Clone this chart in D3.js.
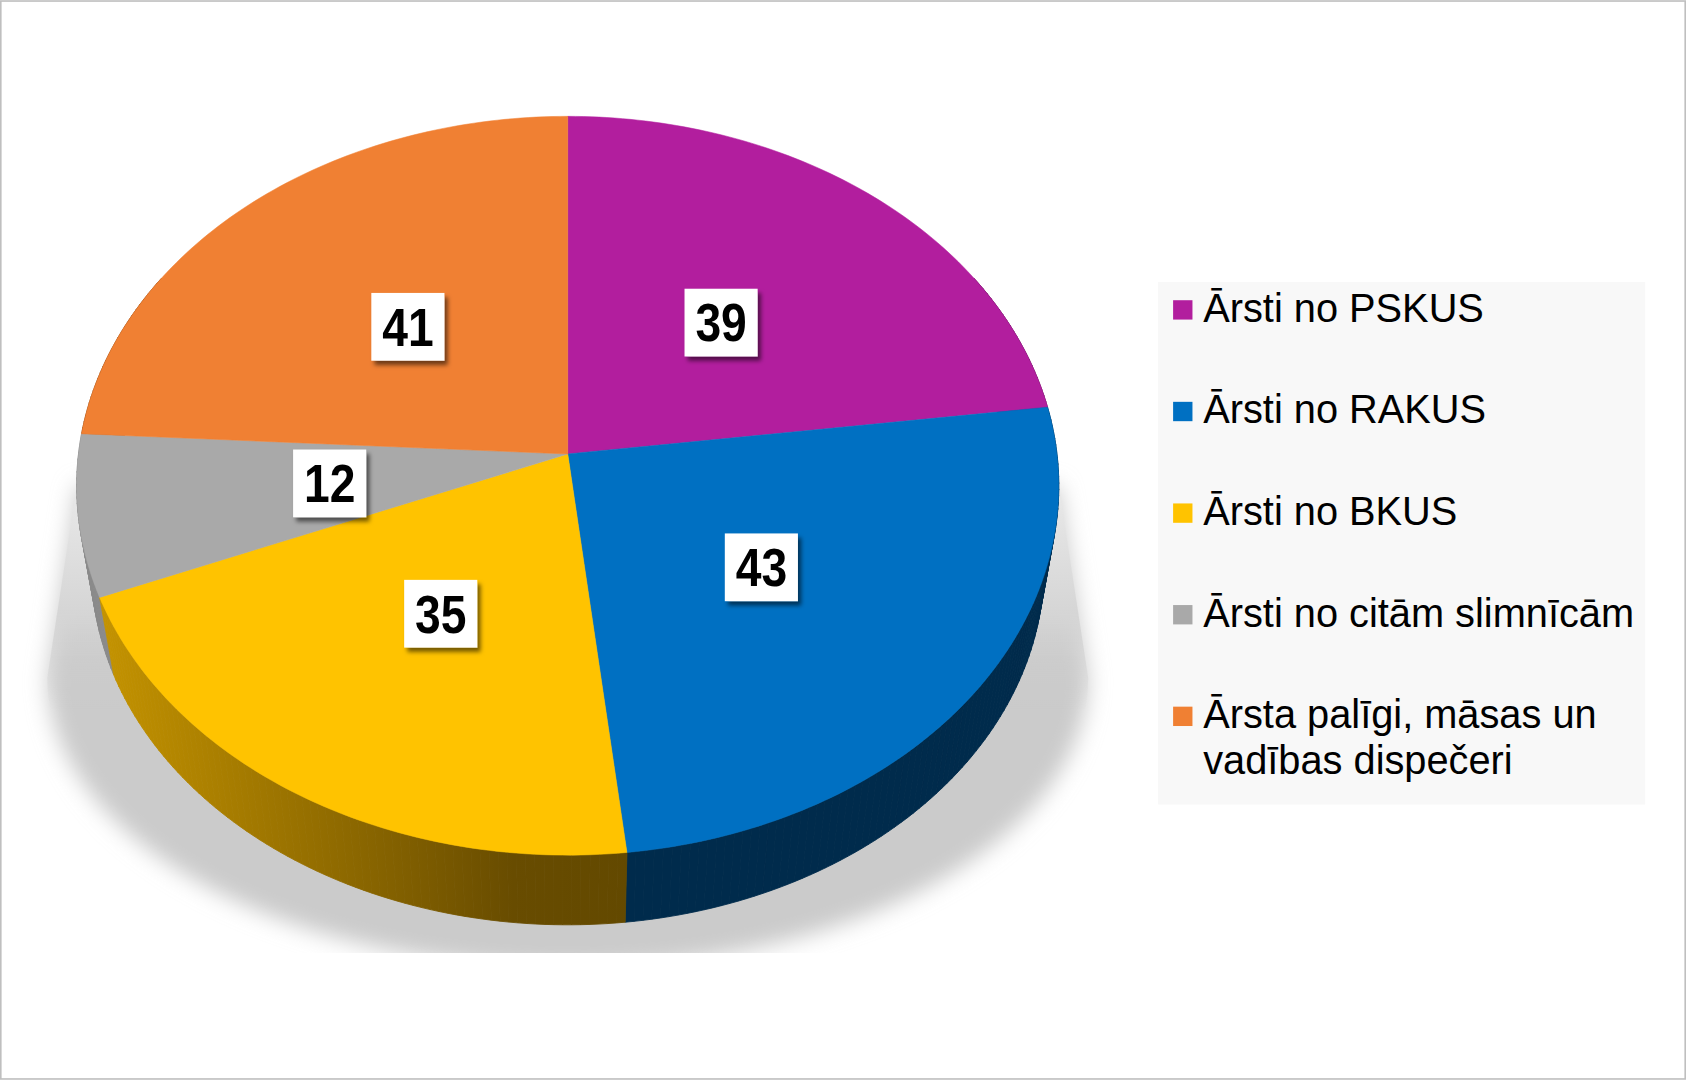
<!DOCTYPE html>
<html>
<head>
<meta charset="utf-8">
<script src="https://cdn.jsdelivr.net/npm/d3@7"></script>
<style>
  body { margin: 0; background: #fff; }
  svg { display: block; }
</style>
</head>
<body>
<script>
// Data
var categories = ["Ārsti no PSKUS", "Ārsti no RAKUS", "Ārsti no BKUS", "Ārsti no citām slimnīcām", "Ārsta palīgi, māsas un vadības dispečeri"];
var values = [39, 43, 35, 12, 41];
var colors = ["#B21E9E", "#0070C2", "#FFC300", "#A9A9A9", "#F08033"];
var sideColors = ["#5a0f50", "#002B4C", "url(#yellowSide)", "#8a8a8a", "#8a4512"];

// Svg container (drawn in a 1568x1004 space, shown at 1686x1080)
var svg = d3.select("body").append("svg")
    .attr("width", 1686).attr("height", 1080)
    .attr("viewBox", "0 0 1568 1004");

svg.append("rect").attr("x", 0.75).attr("y", 0.75).attr("width", 1566.5).attr("height", 1002.5)
    .attr("fill", "#fff").attr("stroke", "#bfbfbf").attr("stroke-width", 1.5);

var defs = svg.append("defs");
var yg = defs.append("linearGradient").attr("id", "yellowSide")
    .attr("gradientUnits", "userSpaceOnUse").attr("x1", 95).attr("x2", 585).attr("y1", 0).attr("y2", 0);
yg.append("stop").attr("offset", "0").attr("stop-color", "#C49300");
yg.append("stop").attr("offset", "0.78").attr("stop-color", "#684C00");
yg.append("stop").attr("offset", "1").attr("stop-color", "#634900");

// light upper part of the shadow
var sg = defs.append("linearGradient").attr("id", "shadowTop")
    .attr("gradientUnits", "userSpaceOnUse").attr("x1", 0).attr("x2", 0).attr("y1", 400).attr("y2", 620);
sg.append("stop").attr("offset", "0").attr("stop-color", "#f2f2f2");
sg.append("stop").attr("offset", "1").attr("stop-color", "#cdcdcd");
var mg = defs.append("linearGradient").attr("id", "shadowFade")
    .attr("gradientUnits", "userSpaceOnUse").attr("x1", 0).attr("x2", 0).attr("y1", 570).attr("y2", 660);
mg.append("stop").attr("offset", "0").attr("stop-color", "#fff");
mg.append("stop").attr("offset", "1").attr("stop-color", "#000");
defs.append("mask").attr("id", "shadowMask").attr("maskUnits", "userSpaceOnUse")
    .attr("x", 0).attr("y", 0).attr("width", 1568).attr("height", 1004)
    .append("rect").attr("width", 1568).attr("height", 1004).attr("fill", "url(#shadowFade)");

var blur = defs.append("filter").attr("id", "softBlur").attr("x", "-20%").attr("y", "-20%").attr("width", "140%").attr("height", "140%");
blur.append("feGaussianBlur").attr("stdDeviation", 10);

var ds = defs.append("filter").attr("id", "labelShadow").attr("x", "-30%").attr("y", "-30%").attr("width", "160%").attr("height", "160%");
ds.append("feDropShadow").attr("dx", 3).attr("dy", 4).attr("stdDeviation", 2)
    .attr("flood-color", "#000").attr("flood-opacity", 0.55);

defs.append("clipPath").attr("id", "shadowClip")
    .append("rect").attr("x", 0).attr("y", 0).attr("width", 1568).attr("height", 886);

// Perspective pie: scales map the projected unit disc to the page
var cx = 528, cy = 422, persp = 0.086;
var xScale = d3.scaleLinear().domain([-1, 1]).range([cx - 455, cx + 455]);
var yScale = d3.scaleLinear().domain([-1, 1]).range([cy - 341, cy + 341]);
// bottom rim = top rim shrunk a little and moved down
var bottomShrink = 0.97, bottomDrop = 76;

function proj(theta, k) {
    var u = Math.sin(theta) * k, v = -Math.cos(theta) * k;
    var w = 1 - persp * v;
    return [xScale(u / w), yScale(v / w)];
}
function projBottom(theta) {
    var p = proj(theta, 1);
    return [cx + bottomShrink * (p[0] - cx), cy + bottomDrop + bottomShrink * (p[1] - cy)];
}
function arcPoints(a0, a1, k) {
    var n = Math.max(2, Math.ceil(Math.abs(a1 - a0) / (Math.PI / 180)));
    var pts = [];
    for (var i = 0; i <= n; i++) pts.push(proj(a0 + (a1 - a0) * i / n, k));
    return pts;
}

var line = d3.line();
var arcs = d3.pie().sort(null).startAngle(0).endAngle(2 * Math.PI)(values);

// silhouette of the top rim (where the outline is vertical)
var thR = Math.acos(-persp), thL = 2 * Math.PI - thR;

// Shadow behind the pie
var shX = d3.scaleLinear().domain([-1, 1]).range([44, 1012]);
var shY = d3.scaleLinear().domain([0, 1]).range([630, 900]);
var shadowPts = [proj(thR, 1)];
for (var a = 90; a <= 270; a += 2) {
    var t = a * Math.PI / 180;
    shadowPts.push([shX(Math.sin(t)), shY(-Math.cos(t))]);
}
shadowPts.push(proj(thL, 1));
var shadow = svg.append("g").attr("clip-path", "url(#shadowClip)");
shadow.append("path").attr("d", line(shadowPts) + "Z")
    .attr("fill", "#cbcbcb").attr("filter", "url(#softBlur)");
shadow.append("path").attr("d", line(shadowPts) + "Z")
    .attr("fill", "url(#shadowTop)").attr("mask", "url(#shadowMask)");

// Sides: small quads painted back to front
var quads = [];
arcs.forEach(function(d, i) {
    var a0 = Math.max(d.startAngle, Math.PI / 3), a1 = Math.min(d.endAngle, 5 * Math.PI / 3);
    if (a0 >= a1) return;
    var n = Math.ceil((a1 - a0) / (Math.PI / 180));
    for (var j = 0; j < n; j++) {
        var s0 = a0 + (a1 - a0) * j / n, s1 = a0 + (a1 - a0) * (j + 1) / n;
        quads.push({ i: i, v: -Math.cos((s0 + s1) / 2),
            pts: [proj(s0, 1), proj(s1, 1), projBottom(s1), projBottom(s0)] });
    }
});
quads.sort(function(a, b) { return a.v - b.v; });
svg.append("g").selectAll("path").data(quads).enter().append("path")
    .attr("d", function(q) { return line(q.pts) + "Z"; })
    .attr("fill", function(q) { return sideColors[q.i]; })
    .attr("stroke", function(q) { return sideColors[q.i]; }).attr("stroke-width", 0.8);

// Top faces
svg.append("g").selectAll("path").data(arcs).enter().append("path")
    .attr("d", function(d) {
        return line([proj(0, 0)].concat(arcPoints(d.startAngle, d.endAngle, 1))) + "Z";
    })
    .attr("fill", function(d, i) { return colors[i]; })
    .attr("stroke", function(d, i) { return colors[i]; }).attr("stroke-width", 0.5);

// Data labels
var labels = svg.append("g").selectAll("g").data(arcs).enter().append("g")
    .attr("transform", function(d) {
        var p = proj((d.startAngle + d.endAngle) / 2, 0.49);
        return "translate(" + p[0] + "," + p[1] + ")";
    });
labels.append("rect").attr("x", -34).attr("y", -32).attr("width", 68).attr("height", 63)
    .attr("fill", "#fff").attr("filter", "url(#labelShadow)");
labels.append("text")
    .attr("text-anchor", "middle").attr("transform", "translate(0,17) scale(0.86,1)")
    .style("font-family", "'Liberation Sans Narrow', 'Arial Narrow', 'Liberation Sans', Arial, sans-serif")
    .style("font-weight", "bold").style("font-size", "50px").attr("fill", "#000")
    .text(function(d) { return d.data; });

// Legend
var legend = svg.append("g");
legend.append("rect").attr("x", 1077).attr("y", 262).attr("width", 453).attr("height", 486).attr("fill", "#f8f8f8");

var legendY = d3.scaleLinear().domain([0, 1]).range([299, 393.5]);
var items = legend.selectAll("g.item").data(categories).enter().append("g").attr("class", "item")
    .attr("transform", function(d, i) { return "translate(0," + legendY(i) + ")"; });
items.append("rect").attr("x", 1091).attr("y", -20).attr("width", 18).attr("height", 18)
    .attr("fill", function(d, i) { return colors[i]; });
items.append("text").attr("x", 1119).attr("y", 0)
    .style("font-family", "'Liberation Sans', Arial, sans-serif").style("font-size", "37px").attr("fill", "#000")
    .each(function(d) {
        // wrap long labels
        var t = d3.select(this), words = d.split(" "), cur = [];
        var ts = t.append("tspan").attr("x", 1119).attr("dy", 0);
        words.forEach(function(word) {
            cur.push(word);
            ts.text(cur.join(" "));
            if (ts.node().getComputedTextLength() > 420 && cur.length > 1) {
                cur.pop();
                ts.text(cur.join(" "));
                cur = [word];
                ts = t.append("tspan").attr("x", 1119).attr("dy", 42.5).text(word);
            }
        });
    });
</script>
</body>
</html>
